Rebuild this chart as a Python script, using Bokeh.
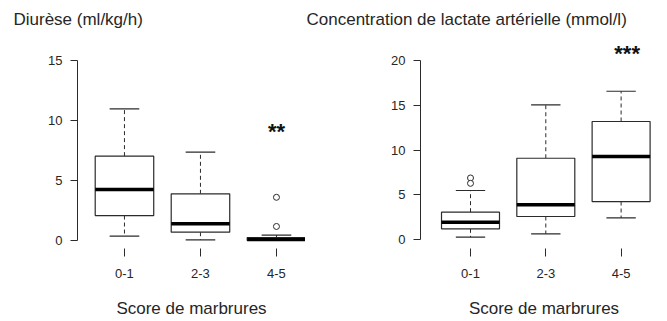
from bokeh.plotting import figure
from bokeh.layouts import row
from bokeh.models import Range1d, FixedTicker, Label
from bokeh.embed import file_html
from bokeh.resources import INLINE

categories = ["0-1", "2-3", "4-5"]

# Diurèse (ml/kg/h)
diu_low = [0.36, 0.05, 0.0]
diu_q1 = [2.08, 0.69, 0.0]
diu_med = [4.25, 1.39, 0.08]
diu_q3 = [7.03, 3.89, 0.25]
diu_high = [10.97, 7.36, 0.45]
diu_out_group = ["4-5", "4-5"]
diu_out_val = [3.6, 1.17]
diu_ticks = [0, 5, 10, 15]
diu_signif = "**"

# Concentration de lactate artérielle (mmol/l)
lac_low = [0.3, 0.67, 2.45]
lac_q1 = [1.22, 2.6, 4.27]
lac_med = [1.96, 3.9, 9.29]
lac_q3 = [3.08, 9.1, 13.2]
lac_high = [5.5, 15.05, 16.57]
lac_out_group = ["0-1", "0-1"]
lac_out_val = [6.9, 6.3]
lac_ticks = [0, 5, 10, 15, 20]
lac_signif = "***"

titles = ["Diurèse (ml/kg/h)", "Concentration de lactate artérielle (mmol/l)"]
xlabel = "Score de marbrures"

FONT = "Liberation Sans"
LINE = "#2b2b2b"
TEXT = "#262626"
HALF = 0.385
CAP = 0.195


def panel(title, low, q1, med, q3, high, out_g, out_v, yticks, signif,
          width, border_left, xr, yr, title_offset, star_pos):
    p = figure(width=width, height=321, x_range=Range1d(*xr), y_range=Range1d(*yr),
               output_backend="svg", toolbar_location=None,
               min_border_left=border_left, min_border_right=0,
               min_border_top=30, min_border_bottom=73)
    p.outline_line_color = None
    p.xgrid.visible = False
    p.ygrid.visible = False
    p.background_fill_color = "white"
    p.border_fill_color = "white"

    p.title.text = title
    p.title.align = "left"
    p.title.offset = title_offset
    p.title.standoff = 3
    p.title.text_font = FONT
    p.title.text_font_size = "17px"
    p.title.text_font_style = "normal"
    p.title.text_color = TEXT

    xs = [i + 1 for i in range(len(categories))]
    pos = {c: x for c, x in zip(categories, xs)}

    # whiskers (dashed)
    p.segment(x0=xs, x1=xs, y0=q3, y1=high, line_color=LINE, line_width=1, line_dash="4 3")
    p.segment(x0=xs, x1=xs, y0=q1, y1=low, line_color=LINE, line_width=1, line_dash="4 3")
    # caps
    p.segment(x0=[x - CAP for x in xs], x1=[x + CAP for x in xs], y0=high, y1=high,
              line_color=LINE, line_width=1.2)
    p.segment(x0=[x - CAP for x in xs], x1=[x + CAP for x in xs], y0=low, y1=low,
              line_color=LINE, line_width=1.2)
    # boxes
    p.quad(left=[x - HALF for x in xs], right=[x + HALF for x in xs], bottom=q1, top=q3,
           fill_color="white", line_color=LINE, line_width=1.2)
    # medians
    p.segment(x0=[x - HALF for x in xs], x1=[x + HALF for x in xs], y0=med, y1=med,
              line_color="black", line_width=3.5)
    # outliers
    p.scatter(x=[pos[g] for g in out_g], y=out_v, marker="circle", size=6,
              fill_color="white", line_color=LINE, line_width=1)

    # axes
    p.xaxis.ticker = FixedTicker(ticks=xs)
    p.xaxis.major_label_overrides = {x: c for x, c in zip(xs, categories)}
    p.xaxis.axis_line_color = None
    p.xaxis.major_tick_out = 8
    p.xaxis.major_tick_in = 0
    p.xaxis.minor_tick_line_color = None
    p.xaxis.major_tick_line_color = LINE
    p.xaxis.major_label_standoff = 12
    p.xaxis.major_label_text_font = FONT
    p.xaxis.major_label_text_font_size = "13px"
    p.xaxis.major_label_text_color = TEXT
    p.xaxis.axis_label = xlabel
    p.xaxis.axis_label_standoff = 18
    p.xaxis.axis_label_text_font = FONT
    p.xaxis.axis_label_text_font_size = "17px"
    p.xaxis.axis_label_text_font_style = "normal"
    p.xaxis.axis_label_text_color = TEXT

    p.yaxis.ticker = FixedTicker(ticks=yticks)
    p.yaxis.bounds = (min(yticks), max(yticks))
    p.yaxis.axis_line_color = LINE
    p.yaxis.major_tick_line_color = LINE
    p.yaxis.major_tick_out = 7
    p.yaxis.major_tick_in = 0
    p.yaxis.minor_tick_line_color = None
    p.yaxis.major_label_standoff = 8
    p.yaxis.major_label_orientation = "horizontal"
    p.yaxis.major_label_text_font = FONT
    p.yaxis.major_label_text_font_size = "13px"
    p.yaxis.major_label_text_color = TEXT

    p.add_layout(Label(x=star_pos[0], y=star_pos[1], text=signif, text_font=FONT,
                       text_font_size="22px", text_font_style="bold", text_color="#111111",
                       text_align="center", text_baseline="alphabetic"))
    return p


p1 = panel(titles[0], diu_low, diu_q1, diu_med, diu_q3, diu_high, diu_out_group, diu_out_val,
           diu_ticks, diu_signif, width=305, border_left=77,
           xr=(0.382, 3.382), yr=(-0.667, 17.5),
           title_offset=-64, star_pos=(3.0, 9.05))
p2 = panel(titles[1], lac_low, lac_q1, lac_med, lac_q3, lac_high, lac_out_group, lac_out_val,
           lac_ticks, lac_signif, width=362, border_left=115,
           xr=(0.336, 3.616), yr=(-0.97, 23.35),
           title_offset=-114, star_pos=(3.08, 20.77))

layout = row(p1, p2)
open("out.html", "w").write(file_html(layout, INLINE))
